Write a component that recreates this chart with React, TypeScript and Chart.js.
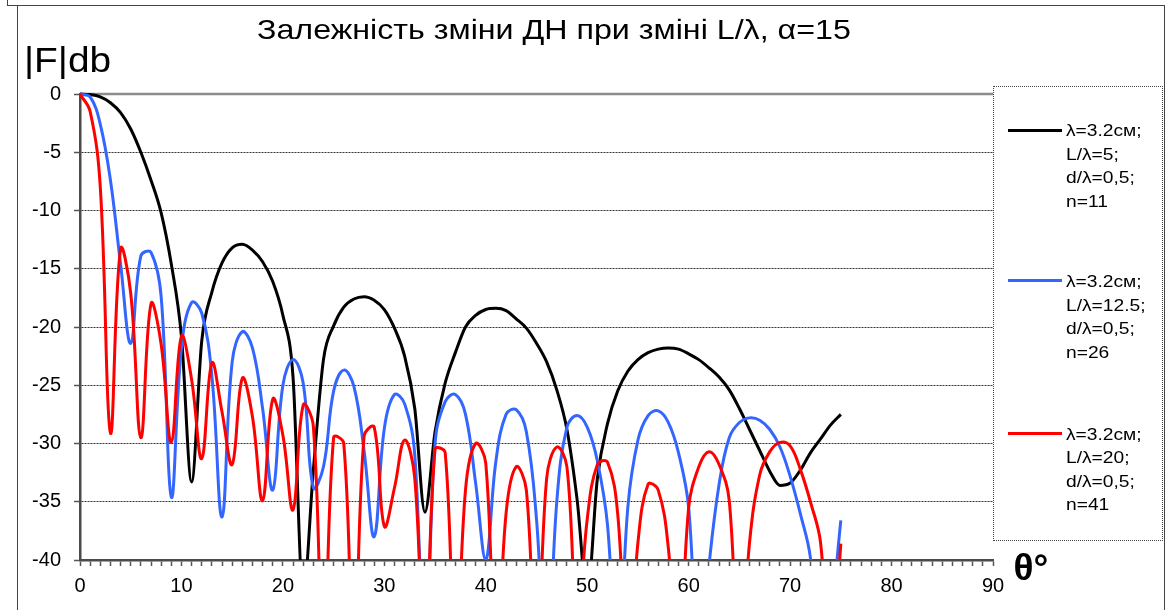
import React, { useEffect, useRef } from "react";
import { Chart, registerables } from "chart.js";

Chart.register(...registerables);

// sampling angles, degrees
const theta = [
  0, 1, 2, 3, 4, 5, 6, 7, 8, 9, 10, 11, 12, 13, 14, 15, 16, 17, 18, 19, 20,
  21, 22, 23, 24, 25, 26, 27, 28, 29, 30, 31, 32, 33, 34, 35, 36, 37, 38, 39, 40,
  41, 42, 43, 44, 45, 46, 47, 48, 49, 50, 51, 52, 53, 54, 55, 56, 57, 58, 59, 60,
  61, 62, 63, 64, 65, 66, 67, 68, 69, 70, 71, 72, 73, 74, 75,
];

// |F| in dB, L/λ = 5, n = 11
const seriesL5 = [
  0, -0.05, -0.25, -0.75, -1.6, -3.0, -5.0, -7.4, -10.2, -14.6, -20.8,
  -33.3, -21.2, -17.0, -14.5, -13.2, -12.9, -13.4, -14.4, -16.1, -19.0,
  -24.3, -43, -32.3, -22.8, -19.9, -18.3, -17.6, -17.4, -17.7, -18.5,
  -20.1, -22.5, -27.0, -35.9, -29.0, -24.8, -22.2, -20.0, -19.0, -18.5,
  -18.4, -18.6, -19.3, -20.1, -21.4, -23.0, -25.4, -28.8, -34.8, -43,
  -33.0, -28.3, -25.5, -23.8, -22.8, -22.2, -21.9, -21.8, -21.9, -22.3,
  -22.8, -23.5, -24.3, -25.4, -27.0, -28.8, -30.6, -32.4, -33.6, -33.4,
  -32.3, -30.8, -29.6, -28.4, -27.5,
];

// |F| in dB, L/λ = 12.5, n = 26
const seriesL12 = [
  0, -0.25, -2.6, -7.4, -14.6, -21.4, -13.9, -13.6, -17.4, -34.6, -21.8,
  -17.9, -18.8, -24.2, -36.3, -23.0, -20.4, -21.8, -27.0, -34.0, -25.0,
  -22.8, -24.8, -33.8, -32.0, -25.5, -23.7, -25.1, -30.6, -38.0, -28.7,
  -25.8, -26.6, -31.0, -50, -30.0, -26.4, -25.8, -27.5, -33.4, -40.0,
  -31.5, -27.5, -27.1, -29.0, -36.5, -50, -35.0, -28.6, -27.6, -28.6,
  -31.5, -37.0, -50, -35.5, -29.7, -27.6, -27.2, -28.2, -30.8, -35.5,
  -50, -40.5, -33.5, -29.5, -28.2, -27.8, -28.0, -28.8, -30.3, -32.8,
  -36.0, -39.8, -50, -45, -36.6,
];

// |F| in dB, L/λ = 20, n = 41
const seriesL20 = [
  0, -1.5, -8.0, -29.1, -13.3, -17.1, -29.5, -18.0, -21.5, -29.9, -20.8,
  -24.5, -31.3, -23.1, -27.3, -31.8, -24.4, -27.7, -34.9, -26.2, -29.3,
  -35.7, -26.7, -28.5, -50, -29.5, -30.0, -50, -29.4, -28.6, -37.1,
  -33.8, -29.7, -33.0, -50, -30.5, -30.8, -50, -34.0, -30.0, -31.7,
  -50, -36.0, -32.0, -34.0, -50, -33.0, -30.3, -32.0, -46, -36.5,
  -31.8, -31.6, -36.0, -50, -38.5, -33.5, -34.0, -39.0, -50, -35.5,
  -32.0, -30.7, -31.8, -34.9, -50, -38.5, -32.7, -30.7, -29.9, -30.2,
  -32.2, -35.0, -38.5, -50, -38.6,
];

const xTickLabels = [0, 10, 20, 30, 40, 50, 60, 70, 80, 90];
const yTickLabels = [0, -5, -10, -15, -20, -25, -30, -35, -40];

const titleText = "Залежність зміни ДН при зміні L/λ, α=15";
const yAxisTitle = "|F|db";
const xAxisTitle = "θ°";

const legendBlack = ["λ=3.2см;", "L/λ=5;", "d/λ=0,5;", "n=11"];
const legendBlue = ["λ=3.2см;", "L/λ=12.5;", "d/λ=0,5;", "n=26"];
const legendRed = ["λ=3.2см;", "L/λ=20;", "d/λ=0,5;", "n=41"];

const FONT = "'Liberation Sans', Arial, sans-serif";
const BLACK = "#000000";
const BLUE = "#3366FF";
const RED = "#FF0000";

function toPoints(vals: number[]) {
  return theta.map((t, i) => ({ x: t, y: vals[i] }));
}

export default function App() {
  const canvasRef = useRef<HTMLCanvasElement | null>(null);

  useEffect(() => {
    const canvas = canvasRef.current;
    if (!canvas) return;

    const topLine = {
      id: "topLine",
      beforeDatasetsDraw(chart: any) {
        const { ctx, chartArea } = chart;
        ctx.save();
        ctx.strokeStyle = "#8c8c8c";
        ctx.lineWidth = 2.5;
        ctx.beginPath();
        ctx.moveTo(chartArea.left, chartArea.top);
        ctx.lineTo(chartArea.right, chartArea.top);
        ctx.stroke();
        ctx.restore();
      },
    };

    const clip = { left: 5, top: 5, right: 5, bottom: 0 };

    const chart = new Chart(canvas, {
      type: "line",
      data: {
        datasets: [
          {
            label: "L/λ=20",
            data: toPoints(seriesL20),
            borderColor: RED,
            borderWidth: 3,
            tension: 0.4,
            order: 0,
            clip,
          },
          {
            label: "L/λ=12.5",
            data: toPoints(seriesL12),
            borderColor: BLUE,
            borderWidth: 3,
            tension: 0.4,
            order: 1,
            clip,
          },
          {
            label: "L/λ=5",
            data: toPoints(seriesL5),
            borderColor: BLACK,
            borderWidth: 3,
            cubicInterpolationMode: "monotone",
            order: 2,
            clip,
          },
        ] as any,
      },
      options: {
        responsive: false,
        animation: false,
        events: [],
        layout: { padding: { left: 20, right: 180, top: 94, bottom: 0 } },
        font: { family: FONT },
        plugins: {
          legend: { display: false },
          title: { display: false },
          tooltip: { enabled: false },
        },
        elements: {
          point: { radius: 0 },
          line: { fill: false },
        },
        scales: {
          x: {
            type: "linear",
            min: 0,
            max: 90,
            afterFit: (s: any) => {
              s.height = 50;
            },
            ticks: {
              stepSize: 1,
              autoSkip: false,
              maxRotation: 0,
              minRotation: 0,
              padding: 8,
              color: "#000",
              font: { family: FONT, size: 20 },
              callback: (v: any) =>
                xTickLabels.includes(Number(v)) ? String(v) : "",
            },
            grid: {
              drawOnChartArea: false,
              drawTicks: true,
              tickLength: 6,
              color: "#555",
              tickColor: "#555",
              tickWidth: 1.5,
            },
            border: { display: true, color: "#4a4a4a", width: 2.5 },
          },
          y: {
            type: "linear",
            min: -40,
            max: 0,
            afterFit: (s: any) => {
              s.width = 60;
            },
            ticks: {
              stepSize: 5,
              padding: 13,
              color: "#000",
              font: { family: FONT, size: 20 },
              callback: (v: any) =>
                yTickLabels.includes(Number(v)) ? String(v) : "",
            },
            grid: {
              drawOnChartArea: true,
              drawTicks: true,
              tickLength: 6,
              lineWidth: 1,
              color: (c: any) =>
                c.tick && (c.tick.value === 0 || c.tick.value === -40)
                  ? "rgba(0,0,0,0)"
                  : "#333",
              tickColor: "#555",
              tickWidth: 1.5,
            },
            border: { display: true, color: "#4a4a4a", width: 2.5, dash: [2, 1] },
          },
        },
      } as any,
      plugins: [topLine],
    });

    return () => chart.destroy();
  }, []);

  const abs = (s: React.CSSProperties): React.CSSProperties => ({
    position: "absolute",
    ...s,
  });

  const legendBlock = (lines: string[], top: number) => (
    <div
      style={abs({
        left: 1065.5,
        top,
        fontFamily: FONT,
        fontSize: 16,
        lineHeight: "23.5px",
        color: "#000",
        whiteSpace: "nowrap",
        transform: "scaleX(1.2)",
        transformOrigin: "left top",
      })}
    >
      {lines.map((l, i) => (
        <div key={i}>{l}</div>
      ))}
    </div>
  );

  const sample = (color: string, y: number) => (
    <div
      style={abs({
        left: 1008,
        top: y - 1.5,
        width: 54,
        height: 3,
        background: color,
      })}
    />
  );

  return (
    <div
      style={{
        position: "fixed",
        left: 0,
        top: 0,
        width: 1173,
        height: 610,
        background: "#fff",
        overflow: "hidden",
      }}
    >
      <canvas
        ref={canvasRef}
        width={1173}
        height={610}
        style={abs({ left: 0, top: 0, width: 1173, height: 610 })}
      />
      {/* frame lines */}
      <div style={abs({ left: 6.5, top: 0, width: 1.5, height: 5.5, background: "#444" })} />
      <div style={abs({ left: 6.5, top: 4.5, width: 1158, height: 1.5, background: "#444" })} />
      <div style={abs({ left: 16.5, top: 5, width: 1.5, height: 610, background: "#444" })} />
      <div style={abs({ left: 1163.5, top: 5, width: 1.5, height: 610, background: "#444" })} />

      {/* title */}
      <div
        style={abs({
          left: 257,
          top: 16.3,
          fontFamily: FONT,
          fontSize: 28,
          lineHeight: "28px",
          color: "#000",
          whiteSpace: "nowrap",
          transform: "scaleX(1.15)",
          transformOrigin: "left top",
        })}
      >
        {titleText}
      </div>

      {/* y axis title */}
      <div
        style={abs({
          left: 24.3,
          top: 42.4,
          fontFamily: FONT,
          fontSize: 35,
          lineHeight: "35px",
          color: "#000",
          whiteSpace: "nowrap",
          transform: "scaleX(1.11)",
          transformOrigin: "left top",
        })}
      >
        {yAxisTitle}
      </div>

      {/* x axis title */}
      <div
        style={abs({
          left: 1013.5,
          top: 548.7,
          fontFamily: FONT,
          fontSize: 37,
          fontWeight: "bold",
          lineHeight: "37px",
          color: "#000",
          whiteSpace: "nowrap",
        })}
      >
        {xAxisTitle}
      </div>

      {/* legend */}
      <div
        style={abs({
          left: 992.5,
          top: 86,
          width: 170.5,
          height: 455,
          border: "1px dotted #444",
          boxSizing: "border-box",
        })}
      />
      {sample(BLACK, 130)}
      {legendBlock(legendBlack, 119.4)}
      {sample(BLUE, 280)}
      {legendBlock(legendBlue, 270)}
      {sample(RED, 433.3)}
      {legendBlock(legendRed, 422.5)}
    </div>
  );
}
